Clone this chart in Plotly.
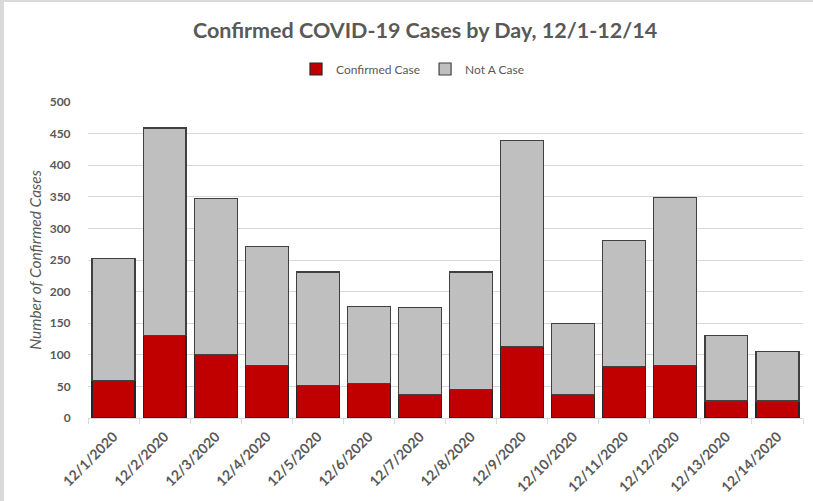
import plotly.graph_objects as go

dates = ["12/1/2020", "12/2/2020", "12/3/2020", "12/4/2020", "12/5/2020", "12/6/2020",
         "12/7/2020", "12/8/2020", "12/9/2020", "12/10/2020", "12/11/2020", "12/12/2020",
         "12/13/2020", "12/14/2020"]
confirmed = [59, 131, 101, 83, 51, 55, 37, 45, 113, 37, 81, 83, 27, 27]
totals = [253, 459, 347, 271, 231, 177, 175, 231, 439, 149, 281, 349, 130, 105]
not_a_case = [t - c for t, c in zip(totals, confirmed)]
y_ticks = [0, 50, 100, 150, 200, 250, 300, 350, 400, 450, 500]

TXT = "#595959"
FONT = "Lato"

fig = go.Figure()
fig.add_trace(go.Bar(x=dates, y=confirmed, name="Confirmed Case",
                     marker=dict(color="#c00000", line=dict(color="#262626", width=1.2))))
fig.add_trace(go.Bar(x=dates, y=not_a_case, name="Not A Case",
                     marker=dict(color="#bfbfbf", line=dict(color="#404040", width=1.2))))

W, H = 813, 501
L, R, T, B = 88, 10, 102, 83
pw, ph = W - L - R, H - T - B

def px(x):
    return (x - L) / pw

def py(y):
    return (H - B - y) / ph

fig.update_layout(
    width=W, height=H,
    margin=dict(l=L, r=R, t=T, b=B, autoexpand=False),
    barmode="stack", bargap=0.16,
    paper_bgcolor="white", plot_bgcolor="white",
    font=dict(family=FONT, color=TXT, size=12),
    title=dict(text="<b>Confirmed COVID-19 Cases by Day, 12/1-12/14</b>",
               x=425 / W, xref="container", xanchor="center", y=1 - 30 / H, yanchor="middle",
               font=dict(family=FONT, size=21.5, color=TXT)),
    legend=dict(orientation="h", x=0.508, xanchor="center", xref="container",
                y=1 - 69 / H, yref="container", yanchor="middle",
                traceorder="normal", font=dict(family=FONT, size=12, color=TXT),
                itemwidth=30, bgcolor="rgba(0,0,0,0)"),
    showlegend=True,
    shapes=[
        dict(type="rect", xref="paper", yref="paper", x0=px(0), x1=px(4), y0=py(H), y1=py(0),
             fillcolor="#d9d9d9", line=dict(width=0), layer="below"),
        dict(type="rect", xref="paper", yref="paper", x0=px(0), x1=px(W), y0=py(2), y1=py(0),
             fillcolor="#d9d9d9", line=dict(width=0), layer="above"),
    ],
)

fig.update_yaxes(range=[0, 500], tickvals=y_ticks, ticktext=[f"<b>{v}</b>" for v in y_ticks],
                 automargin=False,
                 showgrid=True, gridcolor="#d9d9d9", gridwidth=1, zeroline=False,
                 showline=False, ticks="outside", ticklen=14, tickcolor="rgba(0,0,0,0)",
                 tickfont=dict(family=FONT, size=12, color=TXT),
                 title=dict(text="<i>Number of Confirmed Cases</i>", standoff=4,
                            font=dict(family=FONT, size=15.5, color=TXT)))
fig.update_xaxes(type="category", tickangle=-45, showline=True, linecolor="#d9d9d9", linewidth=1,
                 automargin=False,
                 ticks="outside", tickson="boundaries", ticklen=5, tickcolor="#d9d9d9",
                 ticklabelstandoff=4,
                 tickvals=dates, ticktext=[f"<b>{d}</b>" for d in dates],
                 tickfont=dict(family=FONT, size=14, color=TXT), showgrid=False)

fig.write_html("out.html", config={"displayModeBar": False},
               post_script="document.body.style.margin='0';")
